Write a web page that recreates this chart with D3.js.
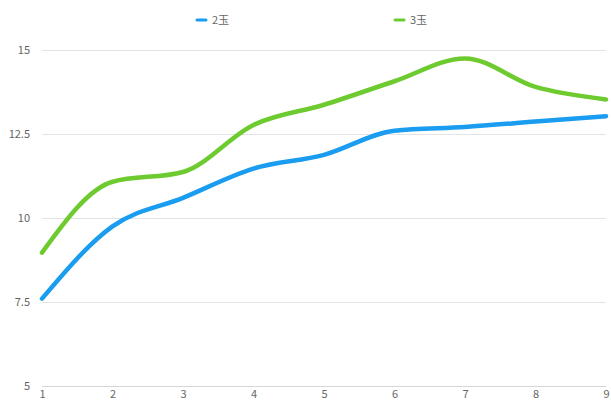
<!DOCTYPE html>
<html>
<head>
<meta charset="utf-8">
<script src="https://cdn.jsdelivr.net/npm/d3@7"></script>
<style>
  body { margin: 0; background: #fff; }
  text { font-family: "Noto Sans CJK JP", "Noto Sans", sans-serif; }
</style>
</head>
<body>
<div id="chart"></div>
<script>
// data
const categories = [1, 2, 3, 4, 5, 6, 7, 8, 9];
const seriesNames = ["2玉", "3玉"];
const values2 = [7.6, 9.75, 10.6, 11.47, 11.88, 12.6, 12.71, 12.87, 13.03];
const values3 = [8.97, 11.08, 11.37, 12.77, 13.37, 14.07, 14.75, 13.9, 13.53];
const yTicks = [5, 7.5, 10, 12.5, 15];

const W = 611, H = 401;
const margin = {top: 50, right: 5, bottom: 15, left: 42};
const width = W - margin.left - margin.right,
    height = H - margin.top - margin.bottom;

const colors = d3.scaleOrdinal()
  .domain(seriesNames)
  .range(["#1a9cf0", "#6dcb30"]);

const svg = d3.select("#chart")
  .append("svg")
  .attr("width", W)
  .attr("height", H);

const g = svg.append("g")
  .attr("transform", `translate(${margin.left},${margin.top})`);

const x = d3.scaleLinear()
  .domain([1, 9])
  .range([0, width]);

const y = d3.scaleLinear()
  .domain([5, 15])
  .range([height, 0]);

// grid lines + y labels
const yAxis = g.append("g")
  .call(d3.axisLeft(y).tickValues(yTicks).tickSize(-width).tickPadding(12)
    .tickFormat(d => d));
yAxis.select(".domain").remove();
yAxis.selectAll("line").attr("stroke", "#e3e3e3");
yAxis.selectAll("text").attr("fill", "#666").style("font-size", "11px");

// x axis
const xAxis = g.append("g")
  .attr("transform", `translate(0,${height})`)
  .call(d3.axisBottom(x).tickValues(categories).tickSize(0).tickPadding(4)
    .tickFormat(d => d));
xAxis.select(".domain").attr("stroke", "#d6d6d6");
xAxis.selectAll("text").attr("fill", "#666").style("font-size", "11px");

// lines
const series = [
  {name: seriesNames[0], values: values2},
  {name: seriesNames[1], values: values3}
];

const line = d3.line()
  .x((d, i) => x(categories[i]))
  .y(d => y(d))
  .curve(d3.curveMonotoneX);

g.selectAll(".series")
  .data(series)
  .join("path")
    .attr("class", "series")
    .attr("fill", "none")
    .attr("stroke", d => colors(d.name))
    .attr("stroke-width", 4.5)
    .attr("stroke-linecap", "round")
    .attr("stroke-linejoin", "round")
    .attr("d", d => line(d.values));

// legend
const legend = svg.append("g")
  .selectAll("g")
  .data(seriesNames)
  .join("g")
    .attr("transform", (d, i) => `translate(${197 + i * 198},20)`);

legend.append("line")
  .attr("x1", 0).attr("x2", 9)
  .attr("stroke", d => colors(d))
  .attr("stroke-width", 3)
  .attr("stroke-linecap", "round");

legend.append("text")
  .attr("x", 15)
  .attr("dy", "0.35em")
  .attr("fill", "#666")
  .style("font-size", "11px")
  .text(d => d);
</script>
</body>
</html>
